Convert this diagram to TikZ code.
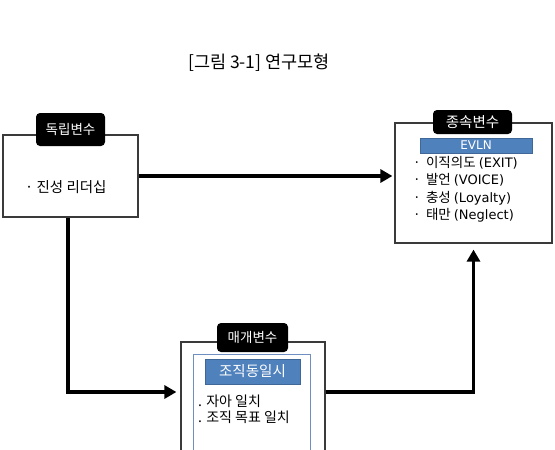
\documentclass[tikz,border=0pt]{standalone}
\usepackage{fontspec}
\setmainfont{Noto Sans CJK KR}
\newfontfamily\latfont{DejaVu Sans}
\usetikzlibrary{positioning,arrows.meta,calc}
\definecolor{barblue}{HTML}{4F81BD}
\definecolor{boxgray}{HTML}{3A3A3A}
\definecolor{innerblue}{HTML}{6E8FC0}

\tikzset{
  varbox/.style={draw=boxgray,line width=1.2pt,fill=white,inner sep=0pt},
  taglabel/.style={fill=black,text=white,rounded corners=4pt,inner sep=0pt,
    minimum width=69pt,minimum height=33pt,font=\fontsize{13.5}{15}\selectfont},
  titlebar/.style={fill=barblue,draw=barblue!80!black,line width=0.6pt,text=white,inner sep=0pt},
  itemtext/.style={anchor=west,inner sep=0pt,font=\fontsize{13.5}{15}\selectfont},
  flow/.style={line width=3.5pt,-{Triangle[length=12pt,width=13pt]}},
}
\newcommand{\latin}[1]{{\latfont\fontsize{13}{14}\selectfont #1}}

\begin{document}
\begin{tikzpicture}[x=1pt,y=-1pt]
      \useasboundingbox (0,0) rectangle (555,450);
      \clip (0,0) rectangle (555,450);
      % caption
      \node[font=\fontsize{17.5}{19}\selectfont] (caption) at (259,63) {[그림 3-1] 연구모형};
      % independent variable
      \node[varbox,minimum width=135pt,minimum height=82pt] (indep) at (70.5,176) {};
      \node[taglabel] (indeptag) at (70.5,129.5) {독립변수};
      \node[itemtext,font=\fontsize{14.5}{16}\selectfont] (leader) at (25,187) {· 진성 리더십};
      % dependent variable
      \node[varbox,minimum width=157pt,minimum height=120pt] (dep) at (473.5,183) {};
      \node[taglabel,minimum width=79pt,minimum height=24pt,font=\fontsize{14.5}{16}\selectfont] (deptag) at (472.5,122) {종속변수};
      \node[titlebar,minimum width=112pt,minimum height=15pt,font=\latfont\fontsize{12}{13}\selectfont] (evln) at (476,145.5) {EVLN};
      \node[itemtext] (exit) at (413,163) {·\, 이직의도 \latin{(EXIT)}};
      \node[itemtext] (voice) at (413,180) {·\, 발언 \latin{(VOICE)}};
      \node[itemtext] (loyal) at (413,198) {·\, 충성 \latin{(Loyalty)}};
      \node[itemtext] (neglect) at (413,215) {·\, 태만 \latin{(Neglect)}};
      % mediator
      \node[varbox,minimum width=144pt,minimum height=130pt] (med) at (253,407) {};
      \node[draw=innerblue,line width=1pt,inner sep=0pt,minimum width=117pt,minimum height=110pt] (medinner) at (251.5,409) {};
      \node[taglabel,minimum width=71pt,minimum height=29pt] (medtag) at (252.5,337.5) {매개변수};
      \node[titlebar,minimum width=95pt,minimum height=25pt,font=\fontsize{14.5}{16}\selectfont] (idbar) at (252.5,371.5) {조직동일시};
      \node[itemtext,font=\fontsize{14}{16}\selectfont] (selfmatch) at (198,401) {. 자아 일치};
      \node[itemtext,font=\fontsize{14}{16}\selectfont] (goalmatch) at (198,417) {. 조직 목표 일치};
      % connectors
      \coordinate (drop) at ($(indep.south west)!0.48!(indep.south east)$);
      \coordinate (medin) at ($(med.west)+(-4,-15)$);
      \coordinate (medout) at (med.east |- medin);
      \coordinate (depup) at ($(dep.south)+(0,6)$);
      \draw[flow] (indep.east) -- ($(indep.east -| dep.west)+(-2,0)$);
      \draw[flow] (drop) |- (medin);
      \draw[flow] (medout) -| (depup);
    \end{tikzpicture}
\end{document}
